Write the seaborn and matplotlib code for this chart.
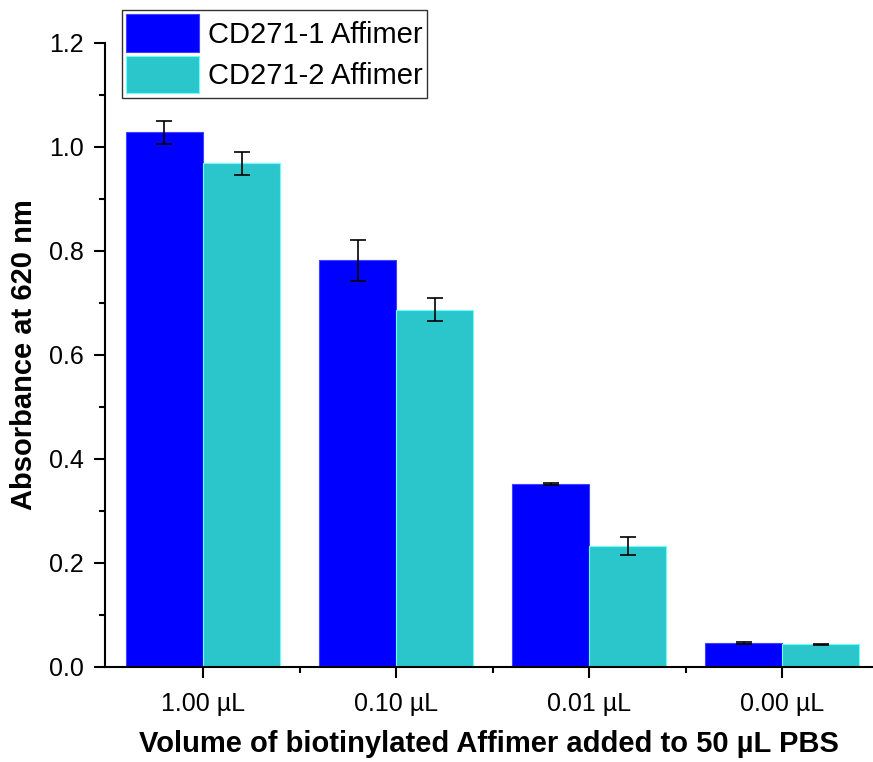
import matplotlib
matplotlib.use("Agg")
import matplotlib.pyplot as plt
import seaborn as sns
import pandas as pd
import numpy as np
from matplotlib.ticker import MultipleLocator, FormatStrFormatter

categories = ["1.00 µL", "0.10 µL", "0.01 µL", "0.00 µL"]
series_names = ["CD271-1 Affimer", "CD271-2 Affimer"]
cd271_1_mean = [1.028, 0.782, 0.352, 0.046]
cd271_1_err = [0.022, 0.039, 0.002, 0.002]
cd271_2_mean = [0.969, 0.687, 0.232, 0.044]
cd271_2_err = [0.022, 0.022, 0.017, 0.001]
colors = ["#0000FF", "#2BC6CC"]

df = pd.DataFrame({
    "Volume": categories * 2,
    "Series": [series_names[0]] * 4 + [series_names[1]] * 4,
    "Absorbance": cd271_1_mean + cd271_2_mean,
    "Err": cd271_1_err + cd271_2_err,
})

sns.set_style("ticks")
plt.rcParams["font.family"] = ["Liberation Sans", "DejaVu Sans"]
plt.rcParams["text.color"] = "black"
plt.rcParams["axes.labelcolor"] = "black"

fig = plt.figure(figsize=(8.73, 7.62), dpi=100)
ax = fig.add_axes([0.1203, 0.1247, 0.8797, 0.8189])

sns.barplot(data=df, x="Volume", y="Absorbance", hue="Series", order=categories,
            hue_order=series_names, palette=colors, errorbar=None, width=0.8,
            saturation=1, ax=ax, linewidth=0.8)

# edge colors slightly lighter
for p in ax.patches:
    fc = p.get_facecolor()
    p.set_edgecolor(tuple(min(1, c + 0.25) for c in fc[:3]) + (1,))

# error bars from the bar patches
bars = [p for p in ax.patches if p.get_height() > 0]
bars_sorted = sorted(bars, key=lambda p: p.get_x())
xs = [p.get_x() + p.get_width() / 2 for p in bars_sorted]
hs = [p.get_height() for p in bars_sorted]
errs = []
for i in range(len(categories)):
    errs += [cd271_1_err[i], cd271_2_err[i]]
ax.errorbar(xs, hs, yerr=errs, fmt="none", ecolor="black", elinewidth=1.2,
            capsize=5.5, capthick=1.2, zorder=5)

ax.set_xlim(-0.508, 3.47)
ax.set_ylim(0, 1.2)
ax.yaxis.set_major_locator(MultipleLocator(0.2))
ax.yaxis.set_minor_locator(MultipleLocator(0.1))
ax.yaxis.set_major_formatter(FormatStrFormatter("%.1f"))
ax.set_xticks(range(len(categories)))
ax.set_xticks([0.5, 1.5, 2.5], minor=True)

for s in ["top", "right"]:
    ax.spines[s].set_visible(False)
for s in ["left", "bottom"]:
    ax.spines[s].set_linewidth(1.5)
    ax.spines[s].set_color("black")

ax.tick_params(axis="both", which="major", direction="out", length=8, width=1.5,
               labelsize=18, colors="black", pad=7)
ax.tick_params(axis="x", which="major", pad=10)
ax.tick_params(axis="both", which="minor", direction="out", length=4.5, width=1.5,
               colors="black")

ax.set_xlabel("Volume of biotinylated Affimer added to 50 µL PBS", fontsize=21,
              fontweight="bold", labelpad=10, color="black")
ax.set_ylabel("Absorbance at 620 nm", fontsize=21, fontweight="bold", labelpad=8,
              color="black")

leg = ax.legend(loc="upper left", bbox_to_anchor=(0.022, 1.053), borderaxespad=0,
                fontsize=21, frameon=True, fancybox=False, edgecolor="#333333",
                framealpha=1, borderpad=0.15, handlelength=2.5, handleheight=1.6,
                handletextpad=0.3, labelspacing=0.14)
leg.get_frame().set_linewidth(1.0)
for t in leg.get_texts():
    t.set_color("black")

fig.savefig("out.png", dpi=100)
